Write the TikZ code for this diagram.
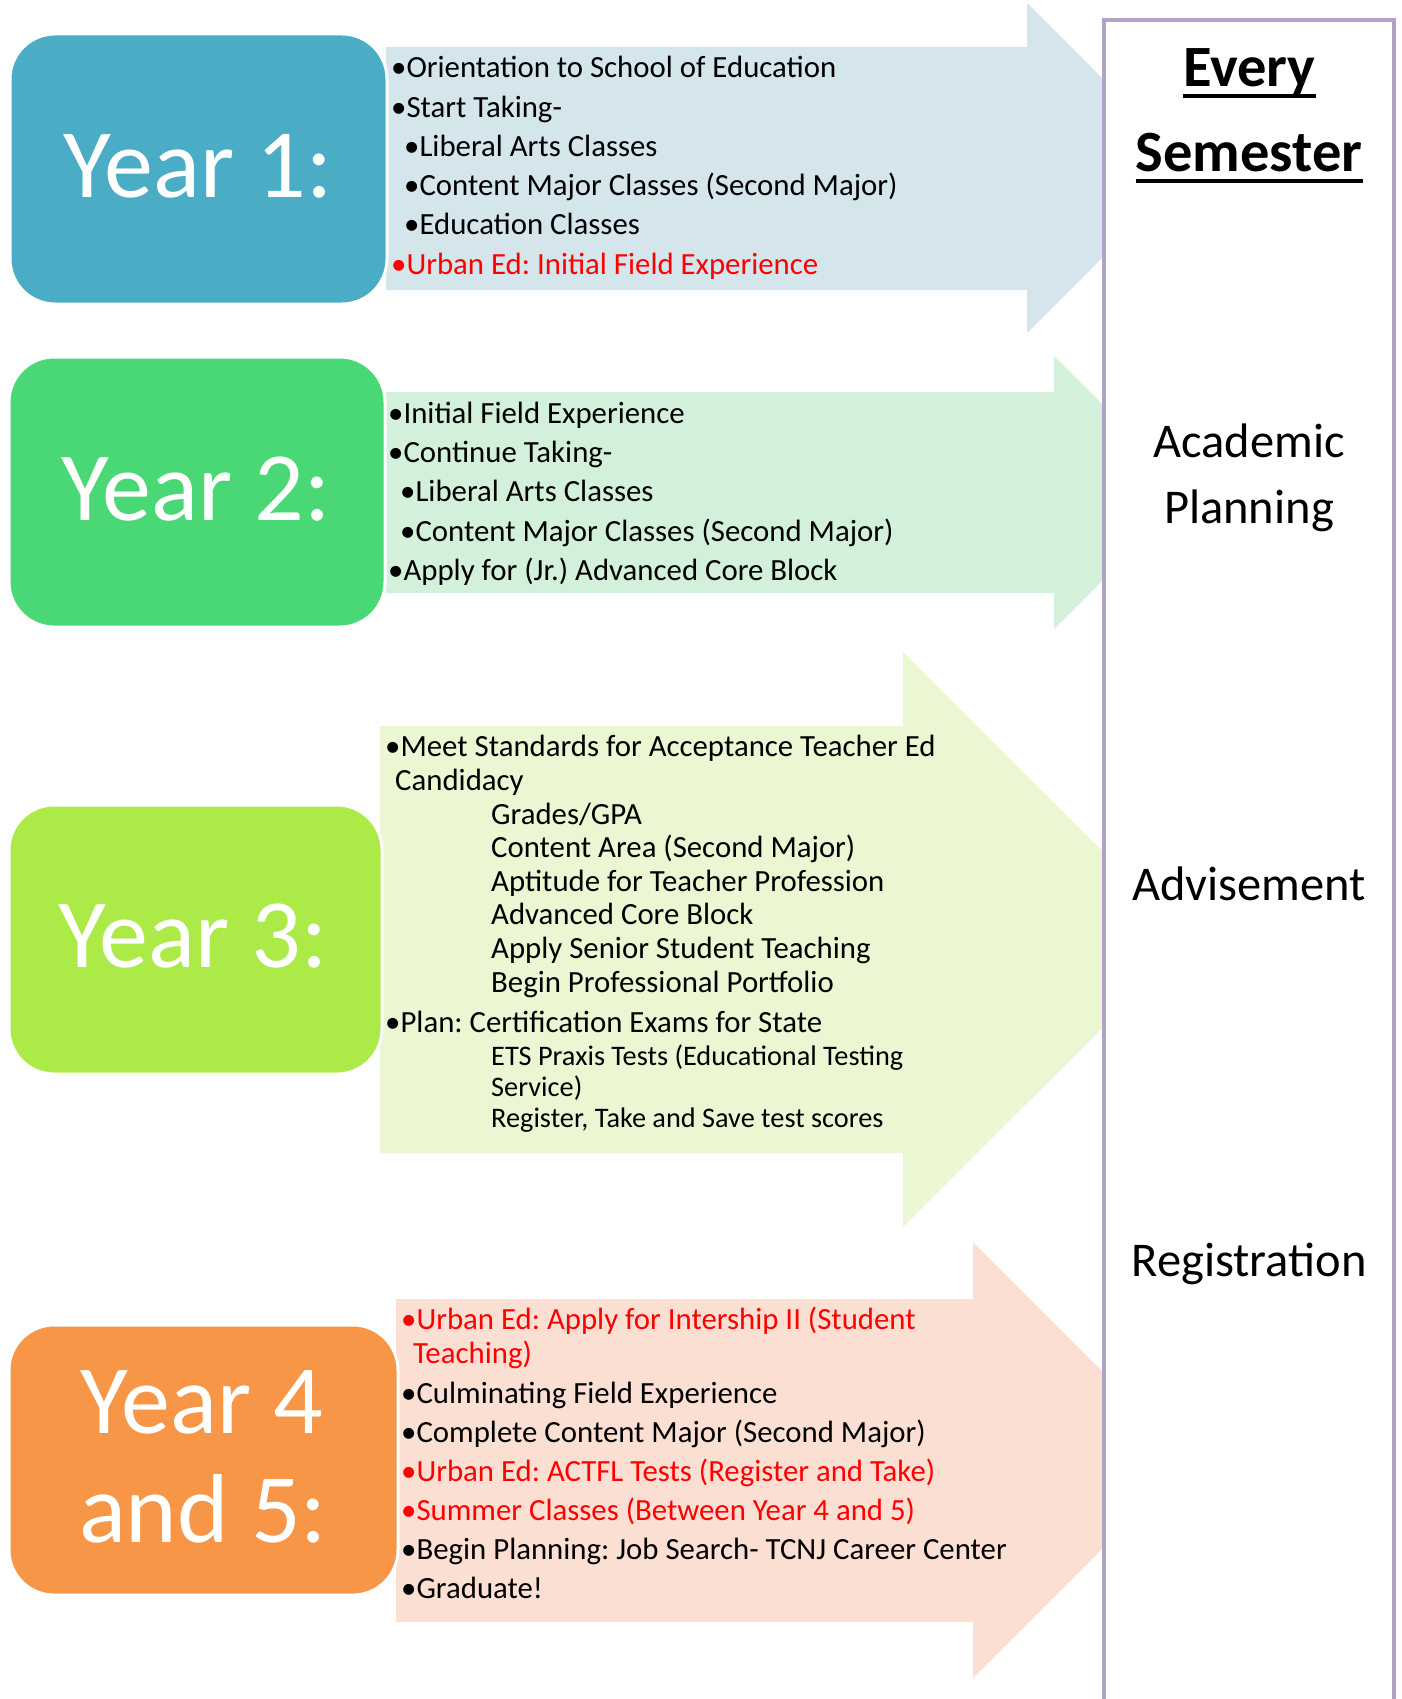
\documentclass[tikz,border=0pt]{standalone}
\usepackage{fontspec}
\setmainfont{Carlito}
\usetikzlibrary{calc}
\definecolor{boxA}{HTML}{4BACC6}
\definecolor{arrA}{HTML}{D4E5EC}
\definecolor{boxB}{HTML}{4AD876}
\definecolor{arrB}{HTML}{D2F0DA}
\definecolor{boxC}{HTML}{ACEA48}
\definecolor{arrC}{HTML}{EBF6D2}
\definecolor{boxD}{HTML}{F79646}
\definecolor{arrD}{HTML}{FBDFD3}
\definecolor{lilac}{HTML}{B3A2C7}
\definecolor{urban}{HTML}{FF0000}
\frenchspacing
\begin{document}
\begin{tikzpicture}[x=1pt,y=-1pt,
  yearbox/.style={fill=#1, draw=white, line width=3pt, rounded corners=45pt},
  bigyear/.style={text=white, anchor=base, inner sep=0pt, font=\fontsize{98}{112}\selectfont},
  item/.style={anchor=base west, inner sep=0pt, font=\fontsize{30.8}{37}\selectfont},
  small/.style={anchor=base west, inner sep=0pt, font=\fontsize{28.3}{34}\selectfont},
  red/.style={text=urban},
  label/.style={anchor=base, inner sep=0pt, font=\fontsize{48.5}{58}\selectfont},
  head/.style={anchor=base, inner sep=0pt, font=\fontsize{58.5}{70}\selectfont\bfseries},
  column/.style={fill=white, draw=lilac, line width=3.2pt}]
\useasboundingbox (0,0) rectangle (1402,1699);

% block arrows, all aiming at the same tip line
\fill[arrA] (386,47) -- (1027,47) -- (1027,3) -- (1192,168) -- (1027,333) -- (1027,290) -- (386,290) -- cycle;
\fill[arrB] (383,392) -- (1054,392) -- (1054,356) -- (1191,492.5) -- (1054,629) -- (1054,593) -- (383,593) -- cycle;
\fill[arrC] (380,726) -- (903,726) -- (903,652) -- (1191,939.5) -- (903,1227) -- (903,1153) -- (380,1153) -- cycle;
\fill[arrD] (396,1299) -- (973,1299) -- (973,1242) -- (1191,1460) -- (973,1678) -- (973,1622) -- (396,1622) -- cycle;

% the semester column covers the arrow points
\draw[column] (1104,20) rectangle (1394,1730);

% year boxes
\draw[yearbox=boxA] (10,34) rectangle (387,304);
\draw[yearbox=boxB] (9,357) rectangle (385,627);
\draw[yearbox=boxC] (9,805) rectangle (382,1074);
\draw[yearbox=boxD] (9,1325) rectangle (398,1595);

\node[bigyear] (y1) at (198,197) {Year 1:};
\node[bigyear] (y2) at (196,520) {Year 2:};
\node[bigyear] (y3) at (193,967) {Year 3:};
\node[bigyear] (y4a) at (202,1433) {Year 4};
\node[bigyear] (y4b) at (203,1542) {and 5:};

% year 1 items
\node[item] (a1) at (391,78) {\textbullet Orientation to School of Education};
\node[item] (a2) at (391,117.2) {\textbullet Start Taking-};
\node[item] (a3) at (404,156.4) {\textbullet Liberal Arts Classes};
\node[item] (a4) at (404,195.6) {\textbullet Content Major Classes (Second Major)};
\node[item] (a5) at (404,234.8) {\textbullet Education Classes};
\node[item,red] (a6) at (391,274) {\textbullet Urban Ed: Initial Field Experience};

% year 2 items
\node[item] (b1) at (388,423.5) {\textbullet Initial Field Experience};
\node[item] (b2) at (388,462.5) {\textbullet Continue Taking-};
\node[item] (b3) at (400,501.5) {\textbullet Liberal Arts Classes};
\node[item] (b4) at (400,541) {\textbullet Content Major Classes (Second Major)};
\node[item] (b5) at (388,580.5) {\textbullet Apply for (Jr.) Advanced Core Block};

% year 3 items
\node[item] (c1) at (385,756.5) {\textbullet Meet Standards for Acceptance Teacher Ed};
\node[item] (c2) at (395,790.5) {Candidacy};
\node[item] (c3) at (491,824.5) {Grades/GPA};
\node[item] (c4) at (491,857.5) {Content Area (Second Major)};
\node[item] (c5) at (491,891.5) {Aptitude for Teacher Profession};
\node[item] (c6) at (491,924.5) {Advanced Core Block};
\node[item] (c7) at (491,958.5) {Apply Senior Student Teaching};
\node[item] (c8) at (491,992.5) {Begin Professional Portfolio};
\node[item] (c9) at (385,1032) {\textbullet Plan: Certification Exams for State};
\node[small] (c10) at (491,1065.5) {ETS Praxis Tests (Educational Testing};
\node[small] (c11) at (491,1096.5) {Service)};
\node[small] (c12) at (491,1127.5) {Register, Take and Save test scores};

% year 4 and 5 items
\node[item,red] (d1) at (401,1329.5) {\textbullet Urban Ed: Apply for Intership II (Student};
\node[item,red] (d2) at (413,1363) {Teaching)};
\node[item] (d3) at (401,1403) {\textbullet Culminating Field Experience};
\node[item] (d4) at (401,1442) {\textbullet Complete Content Major (Second Major)};
\node[item,red] (d5) at (401,1481) {\textbullet Urban Ed: ACTFL Tests (Register and Take)};
\node[item,red] (d6) at (401,1520) {\textbullet Summer Classes (Between Year 4 and 5)};
\node[item] (d7) at (401,1559) {\textbullet Begin Planning: Job Search- TCNJ Career Center};
\node[item] (d8) at (401,1598.5) {\textbullet Graduate!};

% semester column
\node[head] (ev) at (1249.5,87) {Every};
\node[head] (se) at (1249,172) {Semester};
\draw[line width=4pt] ($(ev.base west)+(0,9)$) -- ($(ev.base east)+(0,9)$);
\draw[line width=4pt] ($(se.base west)+(0,9)$) -- ($(se.base east)+(0,9)$);
\node[label] (ac) at (1249,457) {Academic};
\node[label] (pl) at (1249,523) {Planning};
\node[label] (ad) at (1249,900) {Advisement};
\node[label] (rg) at (1249,1276) {Registration};
\end{tikzpicture}
\end{document}
